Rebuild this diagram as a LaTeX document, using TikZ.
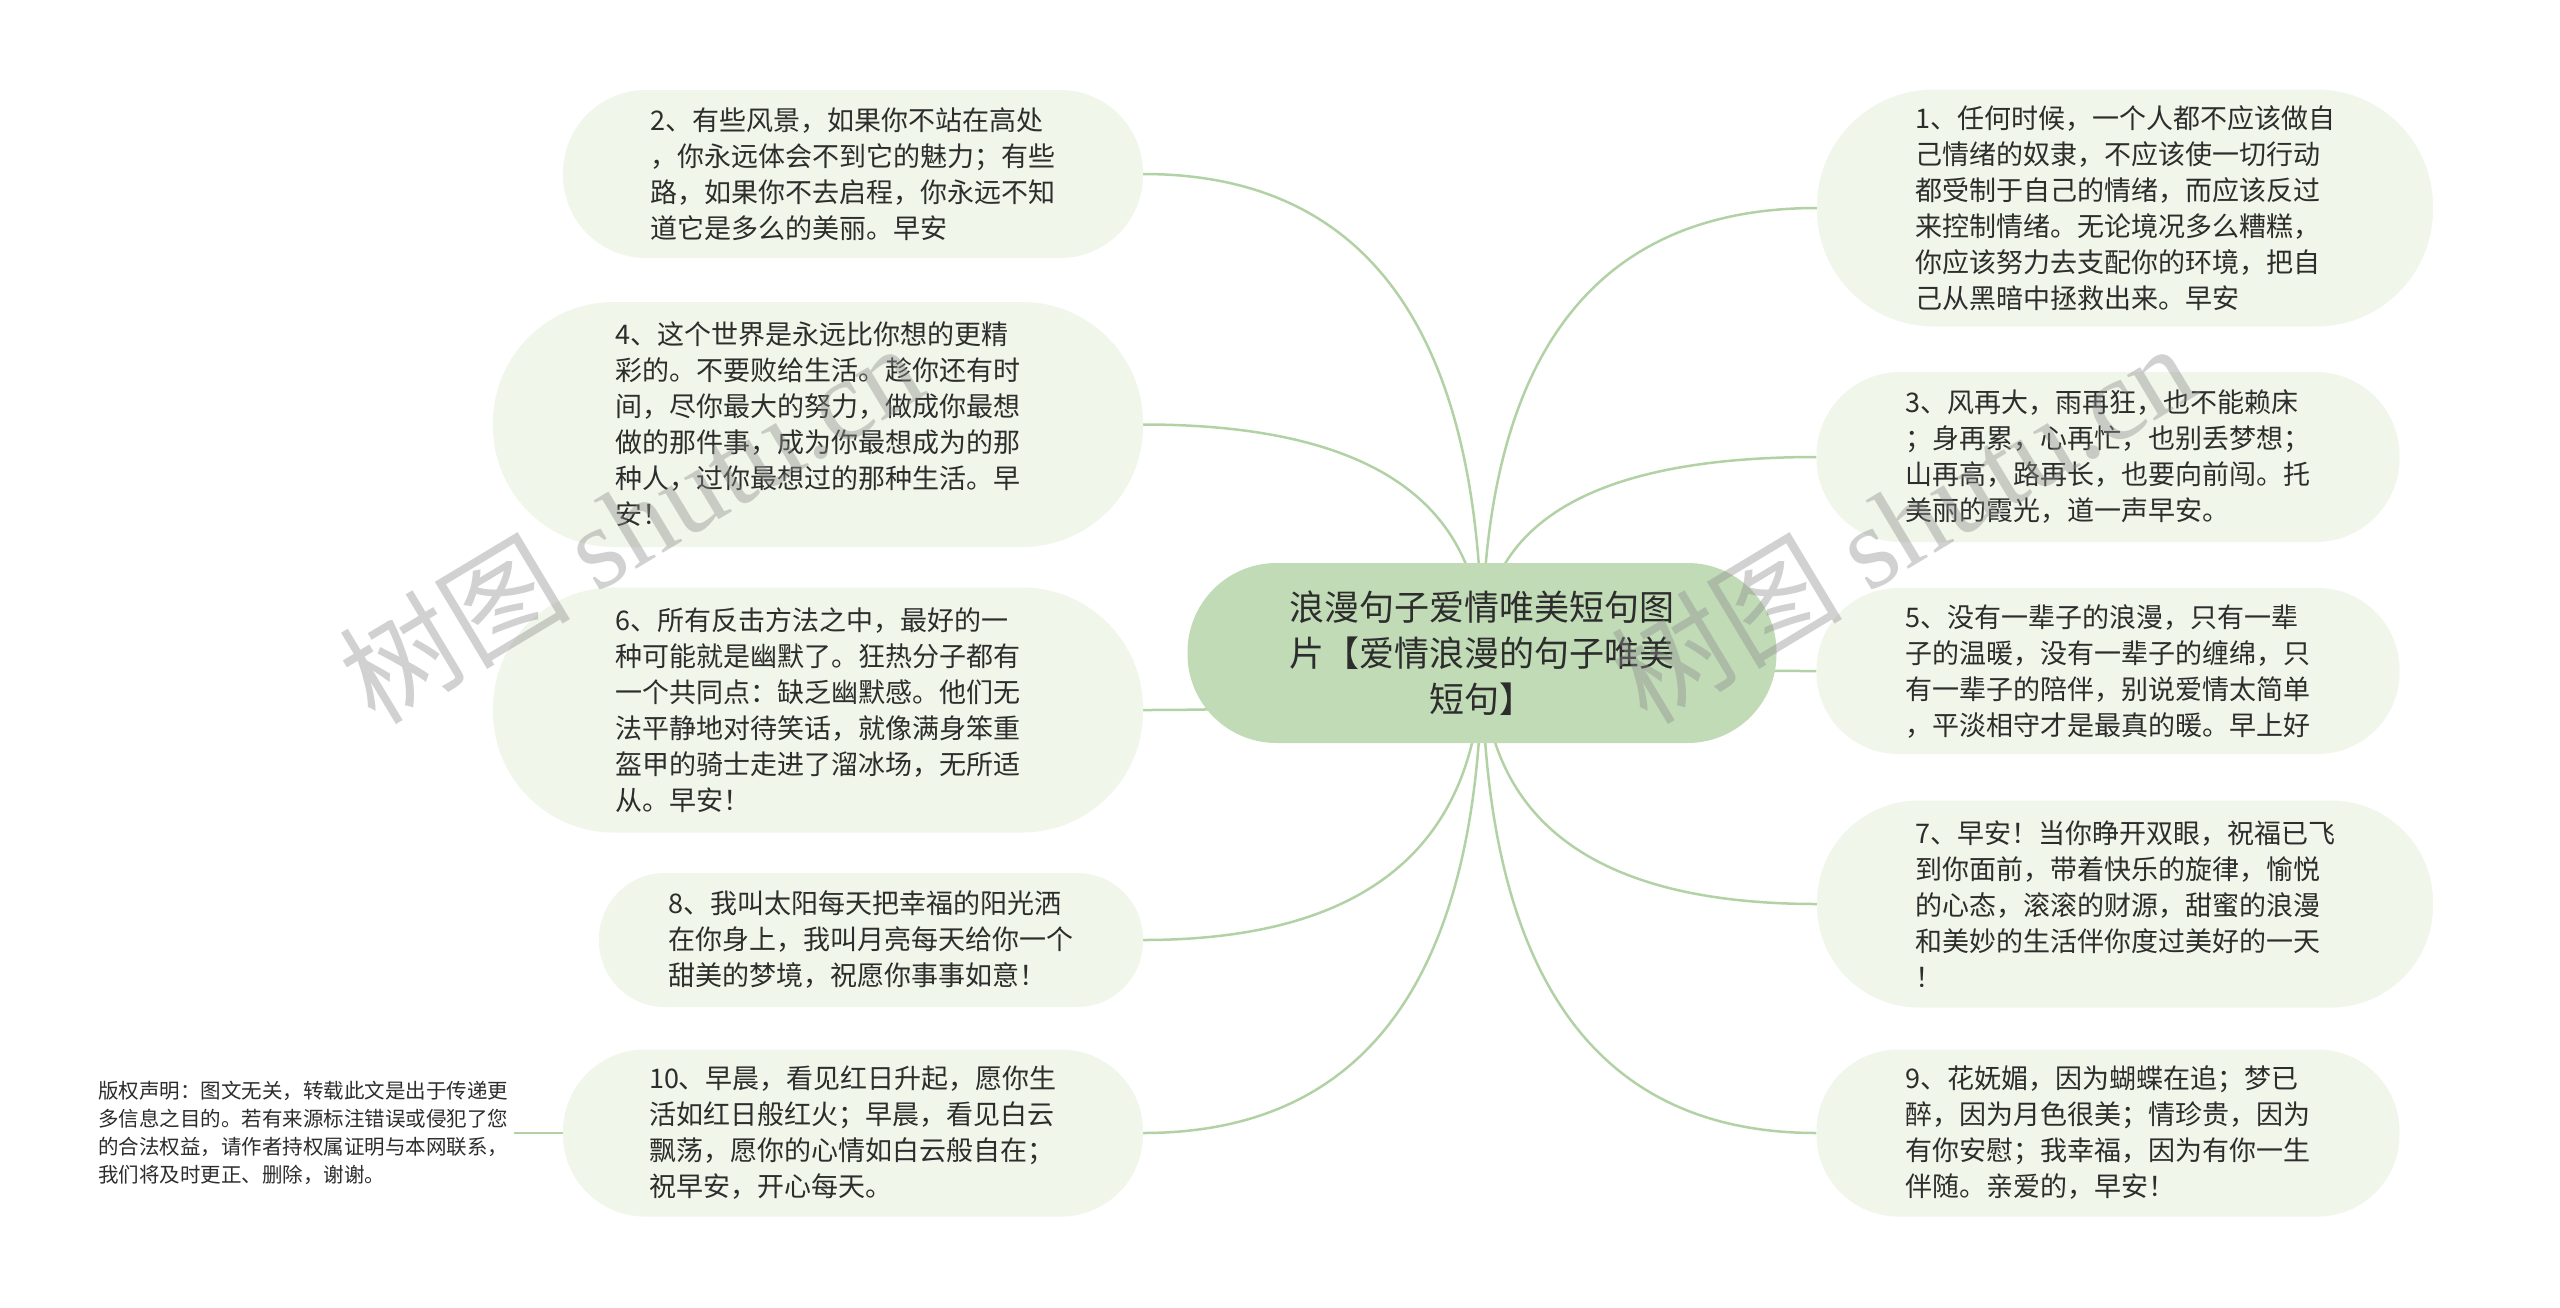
\documentclass[tikz,border=0pt]{standalone}
\usepackage{fontspec}
\newfontfamily\cjk{Noto Sans CJK SC}
\newfontfamily\wmserif{Liberation Serif}
\usetikzlibrary{calc}
\definecolor{rootfill}{RGB}{192,219,182}
\definecolor{leaffill}{RGB}{240,246,233}
\definecolor{linkcol}{RGB}{178,210,166}
\definecolor{txt}{RGB}{45,45,45}
\pgfdeclarelayer{paper}
\pgfdeclarelayer{bg}
\pgfsetlayers{paper,bg,main}
\newcommand{\mmlink}[2]{\draw[conn] (#1.center) .. controls ($(#1.center)!0.6667!(#1.center |- #2)$) and ($(#2)!0.6667!(#1.center |- #2)$) .. (#2);}
\begin{document}
\begin{tikzpicture}[x=1pt,y=-1pt,
  leaf/.style={fill=leaffill, draw=none, inner sep=0pt, align=left, text=txt,
    font=\cjk\fontsize{27pt}{36pt}\selectfont},
  rootbox/.style={fill=rootfill, draw=none, inner sep=0pt, align=center, text=txt,
    font=\cjk\fontsize{35pt}{46pt}\selectfont},
  note/.style={inner sep=6pt, align=left, text=txt,
    font=\cjk\fontsize{20.5pt}{28pt}\selectfont},
  conn/.style={draw=linkcol, line width=2.5pt},
  wm/.style={text=black!45, text opacity=0.4, inner sep=0pt,
    font=\cjk\fontsize{116pt}{116pt}\selectfont}]
\begin{pgfonlayer}{paper}
\fill[white] (0,0) rectangle (2560,1307);
\end{pgfonlayer}
\useasboundingbox (0,0) rectangle (2560,1307);

% central node
\node[rootbox, minimum width=589pt, minimum height=180pt, rounded corners=89pt] (root) at (1482,653)
  {浪漫句子爱情唯美短句图\\片【爱情浪漫的句子唯美\\短句】};

% left column
\node[leaf, minimum width=580pt, minimum height=168pt, rounded corners=83pt] (n2) at (853,174)
  {2、有些风景，如果你不站在高处\\，你永远体会不到它的魅力；有些\\路，如果你不去启程，你永远不知\\道它是多么的美丽。早安};
\node[leaf, minimum width=650pt, minimum height=245pt, rounded corners=121pt] (n4) at (818,424.5)
  {4、这个世界是永远比你想的更精\\彩的。不要败给生活。趁你还有时\\间，尽你最大的努力，做成你最想\\做的那件事，成为你最想成为的那\\种人，过你最想过的那种生活。早\\安！};
\node[leaf, minimum width=650pt, minimum height=245pt, rounded corners=121pt] (n6) at (818,710)
  {6、所有反击方法之中，最好的一\\种可能就是幽默了。狂热分子都有\\一个共同点：缺乏幽默感。他们无\\法平静地对待笑话，就像满身笨重\\盔甲的骑士走进了溜冰场，无所适\\从。早安！};
\node[leaf, minimum width=544pt, minimum height=134pt, rounded corners=66pt] (n8) at (871,940)
  {8、我叫太阳每天把幸福的阳光洒\\在你身上，我叫月亮每天给你一个\\甜美的梦境，祝愿你事事如意！};
\node[leaf, minimum width=580pt, minimum height=167pt, rounded corners=82pt] (n10) at (853,1133)
  {10、早晨，看见红日升起，愿你生\\活如红日般红火；早晨，看见白云\\飘荡，愿你的心情如白云般自在；\\祝早安，开心每天。};

% right column
\node[leaf, minimum width=616pt, minimum height=237pt, rounded corners=117pt] (n1) at (2125,208)
  {1、任何时候，一个人都不应该做自\\己情绪的奴隶，不应该使一切行动\\都受制于自己的情绪，而应该反过\\来控制情绪。无论境况多么糟糕，\\你应该努力去支配你的环境，把自\\己从黑暗中拯救出来。早安};
\node[leaf, minimum width=583pt, minimum height=170pt, rounded corners=84pt] (n3) at (2108,457)
  {3、风再大，雨再狂，也不能赖床\\；身再累，心再忙，也别丢梦想；\\山再高，路再长，也要向前闯。托\\美丽的霞光，道一声早安。};
\node[leaf, minimum width=583pt, minimum height=166pt, rounded corners=82pt] (n5) at (2108,671)
  {5、没有一辈子的浪漫，只有一辈\\子的温暖，没有一辈子的缠绵，只\\有一辈子的陪伴，别说爱情太简单\\，平淡相守才是最真的暖。早上好};
\node[leaf, minimum width=616pt, minimum height=207pt, rounded corners=102pt] (n7) at (2125,904)
  {7、早安！当你睁开双眼，祝福已飞\\到你面前，带着快乐的旋律，愉悦\\的心态，滚滚的财源，甜蜜的浪漫\\和美妙的生活伴你度过美好的一天\\！};
\node[leaf, minimum width=583pt, minimum height=167pt, rounded corners=82pt] (n9) at (2108,1133)
  {9、花妩媚，因为蝴蝶在追；梦已\\醉，因为月色很美；情珍贵，因为\\有你安慰；我幸福，因为有你一生\\伴随。亲爱的，早安！};

% copyright note
\node[note, anchor=west] (cp) at (92,1133)
  {版权声明：图文无关，转载此文是出于传递更\\多信息之目的。若有来源标注错误或侵犯了您\\的合法权益，请作者持权属证明与本网联系，\\我们将及时更正、删除，谢谢。};

\begin{pgfonlayer}{bg}
  \mmlink{root}{n2.east}
  \mmlink{root}{n4.east}
  \mmlink{root}{n6.east}
  \mmlink{root}{n8.east}
  \mmlink{root}{n10.east}
  \mmlink{root}{n1.west}
  \mmlink{root}{n3.west}
  \mmlink{root}{n5.west}
  \mmlink{root}{n7.west}
  \mmlink{root}{n9.west}
  \draw[conn] (cp.east) -- (n10.west);
\end{pgfonlayer}

% watermarks
\node[wm, rotate=31] (wm1) at (630,522) {树图 {\wmserif shutu.cn}};
\node[wm, rotate=31] (wm2) at (1902,522) {树图 {\wmserif shutu.cn}};
\end{tikzpicture}
\end{document}
